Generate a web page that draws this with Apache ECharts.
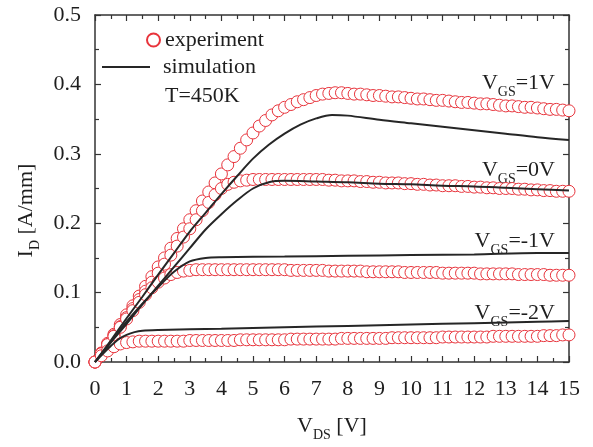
<!DOCTYPE html>
<html>
<head>
<meta charset="utf-8">
<script src="https://cdn.jsdelivr.net/npm/echarts@6/dist/echarts.min.js"></script>
<style>
html,body{margin:0;padding:0;background:#fff;}
#c{width:593px;height:447px;}
</style>
</head>
<body>
<div id="c"></div>
<script>
// ---- data ----
var vdsExp = [0,0.2,0.4,0.6,0.8,1.0,1.2,1.4,1.6,1.8,2.0,2.2,2.4,2.6,2.8,3.0,3.2,3.4,3.6,3.8,
  4.0,4.2,4.4,4.6,4.8,5.0,5.2,5.4,5.6,5.8,6.0,6.2,6.4,6.6,6.8,7.0,7.2,7.4,7.6,7.8,
  8.0,8.2,8.4,8.6,8.8,9.0,9.2,9.4,9.6,9.8,10.0,10.2,10.4,10.6,10.8,11.0,11.2,11.4,11.6,11.8,
  12.0,12.2,12.4,12.6,12.8,13.0,13.2,13.4,13.6,13.8,14.0,14.2,14.4,14.6,14.8,15.0];

var exp1V = [0,0.013,0.027,0.040,0.054,0.068,0.081,0.095,0.109,0.123,0.137,0.150,0.164,0.178,0.192,0.205,0.218,0.232,0.245,0.258,
  0.271,0.284,0.296,0.308,0.320,0.330,0.340,0.348,0.356,0.362,0.367,0.371,0.375,0.378,0.381,0.384,0.386,0.387,0.388,0.388,
  0.387,0.386,0.386,0.385,0.384,0.384,0.383,0.382,0.382,0.381,0.380,0.379,0.379,0.378,0.377,0.377,0.376,0.375,0.374,0.374,
  0.373,0.372,0.372,0.371,0.370,0.369,0.369,0.368,0.367,0.367,0.366,0.365,0.364,0.364,0.363,0.362];

var exp0V = [0,0.012,0.025,0.038,0.051,0.064,0.077,0.090,0.102,0.115,0.128,0.141,0.154,0.167,0.180,0.192,0.205,0.218,0.230,0.241,
  0.250,0.256,0.259,0.261,0.262,0.263,0.263,0.263,0.263,0.263,0.263,0.263,0.263,0.263,0.263,0.263,0.263,0.262,0.262,0.261,
  0.261,0.261,0.260,0.260,0.259,0.259,0.258,0.258,0.258,0.257,0.257,0.256,0.256,0.255,0.255,0.254,0.254,0.254,0.253,0.253,
  0.252,0.252,0.251,0.251,0.250,0.250,0.250,0.249,0.249,0.248,0.248,0.247,0.247,0.246,0.246,0.246];

var expM1V = [0,0.012,0.025,0.037,0.050,0.062,0.074,0.086,0.097,0.107,0.115,0.121,0.126,0.129,0.131,0.132,0.133,0.133,0.133,0.133,
  0.133,0.133,0.133,0.133,0.133,0.133,0.133,0.133,0.133,0.133,0.133,0.132,0.132,0.132,0.132,0.132,0.132,0.131,0.131,0.131,
  0.131,0.131,0.131,0.130,0.130,0.130,0.130,0.130,0.130,0.129,0.129,0.129,0.129,0.129,0.129,0.128,0.128,0.128,0.128,0.128,
  0.128,0.127,0.127,0.127,0.127,0.127,0.127,0.126,0.126,0.126,0.126,0.126,0.125,0.125,0.125,0.125];

var expM2V = [0,0.009,0.016,0.022,0.026,0.028,0.029,0.030,0.030,0.030,0.030,0.030,0.030,0.030,0.030,0.031,0.031,0.031,0.031,0.031,
  0.031,0.031,0.031,0.032,0.032,0.032,0.032,0.032,0.032,0.032,0.032,0.033,0.033,0.033,0.033,0.033,0.033,0.033,0.033,0.034,
  0.034,0.034,0.034,0.034,0.034,0.034,0.034,0.035,0.035,0.035,0.035,0.035,0.035,0.035,0.035,0.036,0.036,0.036,0.036,0.036,
  0.036,0.036,0.036,0.037,0.037,0.037,0.037,0.037,0.037,0.037,0.037,0.038,0.038,0.038,0.039,0.039];

var vdsSim1V = [0,0.5,1,1.5,2,2.5,3,3.5,4,4.5,5,5.5,6,6.5,7,7.5,8,9,10,11,12,13,14,15];
var sim1V = [0,0.031,0.063,0.094,0.126,0.157,0.188,0.215,0.242,0.268,0.293,0.313,0.329,0.342,0.351,0.356,0.355,0.349,0.344,0.339,0.334,0.329,0.324,0.320];

var vdsSim0V = [0,0.5,1,1.5,2,2.5,3,3.5,4,4.5,5,5.5,6,7,8,9,10,11,12,13,14,15];
var sim0V = [0,0.028,0.055,0.083,0.110,0.137,0.164,0.191,0.213,0.233,0.250,0.259,0.261,0.260,0.259,0.257,0.256,0.254,0.253,0.251,0.249,0.247];

var vdsSimM1V = [0,0.5,1,1.5,2,2.5,3,3.5,4,6,8,10,12,14,15];
var simM1V = [0,0.029,0.058,0.084,0.108,0.130,0.145,0.150,0.151,0.152,0.153,0.154,0.155,0.157,0.157];

var vdsSimM2V = [0,0.25,0.5,0.75,1,1.25,1.5,2,4,6,8,10,12,14,15];
var simM2V = [0,0.012,0.023,0.033,0.039,0.043,0.045,0.046,0.048,0.050,0.052,0.054,0.056,0.058,0.059];

var xTickLabels = ['0','1','2','3','4','5','6','7','8','9','10','11','12','13','14','15'];
var yTickLabels = ['0.0','0.1','0.2','0.3','0.4','0.5'];

var curveLabels = [
  {gs: '=1V', y: 83},
  {gs: '=0V', y: 170},
  {gs: '=-1V', y: 241},
  {gs: '=-2V', y: 313}
];

// ---- chart ----
var FONT = 'Liberation Serif';
var TXT = '#1e1e1e';
var RED = '#e8343c';
var AX = '#333';

function pairs(xs, ys){ return xs.map(function(v,i){ return [v, ys[i]]; }); }

function expSeries(name, ys){
  return {
    name: name, type: 'scatter', data: pairs(vdsExp, ys),
    symbol: 'circle', symbolSize: 12, z: 2,
    itemStyle: {color: '#fff', borderColor: RED, borderWidth: 1, opacity: 1},
    emphasis: {disabled: true}, silent: true
  };
}
function simSeries(name, xs, ys){
  return {
    name: name, type: 'line', data: pairs(xs, ys), symbol: 'none', smooth: 0.3, z: 3,
    lineStyle: {color: '#262626', width: 2}, itemStyle: {color: '#262626'},
    emphasis: {disabled: true}, silent: true
  };
}

var tickCommon = {show: true, inside: true, length: 6, lineStyle: {color: AX, width: 1.2}};
var minorCommon = {show: true, splitNumber: 2, length: 4, lineStyle: {color: AX, width: 1.2}};
var lineCommon = {show: true, onZero: false, lineStyle: {color: AX, width: 1.5}};

var chart = echarts.init(document.getElementById('c'), null, {renderer: 'canvas'});
chart.setOption({
  animation: false,
  backgroundColor: '#fff',
  grid: {left: 95, right: 24, top: 15, bottom: 76, containLabel: false},
  xAxis: [{
    type: 'value', min: 0, max: 15, interval: 1, position: 'bottom',
    axisLine: lineCommon, axisTick: tickCommon, minorTick: minorCommon,
    splitLine: {show: false}, minorSplitLine: {show: false},
    axisLabel: {margin: 16, color: TXT, fontFamily: FONT, fontSize: 22,
      formatter: function(v){ return xTickLabels[Math.round(v)]; }},
    name: '{a|V}{s|DS}{a| [V]}', nameLocation: 'middle', nameGap: 48,
    nameTextStyle: {color: TXT, fontFamily: FONT, rich: {
      a: {fontFamily: FONT, fontSize: 22, color: TXT},
      s: {fontFamily: FONT, fontSize: 14, color: TXT, padding: [18,0,0,0]}
    }}
  }, {
    type: 'value', min: 0, max: 15, interval: 1, position: 'top',
    axisLine: lineCommon, axisTick: tickCommon, minorTick: minorCommon,
    splitLine: {show: false}, axisLabel: {show: false}
  }],
  yAxis: [{
    type: 'value', min: 0, max: 0.5, interval: 0.1, position: 'left',
    axisLine: lineCommon, axisTick: tickCommon, minorTick: minorCommon,
    splitLine: {show: false}, minorSplitLine: {show: false},
    axisLabel: {margin: 14, color: TXT, fontFamily: FONT, fontSize: 22,
      formatter: function(v){ return yTickLabels[Math.round(v*10)]; }},
    name: '{a|I}{s|D}{a| [A/mm]}', nameLocation: 'middle', nameGap: 52, nameRotate: 90,
    nameTextStyle: {color: TXT, fontFamily: FONT, padding: [0, 44, 0, 0], rich: {
      a: {fontFamily: FONT, fontSize: 22, color: TXT},
      s: {fontFamily: FONT, fontSize: 14, color: TXT, padding: [18,0,0,0]}
    }}
  }, {
    type: 'value', min: 0, max: 0.5, interval: 0.1, position: 'right',
    axisLine: lineCommon, axisTick: tickCommon, minorTick: minorCommon,
    splitLine: {show: false}, axisLabel: {show: false}
  }],
  legend: [{
    data: ['experiment'], orient: 'vertical', left: 146, top: 29, padding: 0,
    itemWidth: 13, itemHeight: 13, selectedMode: false,
    textStyle: {fontFamily: FONT, fontSize: 22, color: TXT}
  }, {
    data: [{name: 'simulation', icon: 'rect'}], orient: 'vertical', left: 102, top: 56, padding: 0,
    itemWidth: 48, itemHeight: 2, selectedMode: false,
    textStyle: {fontFamily: FONT, fontSize: 22, color: TXT, padding: [0,0,0,8]}
  }],
  graphic: [{
    type: 'text', left: 165, top: 85, silent: true,
    style: {text: 'T=450K', font: '22px "Liberation Serif"', fill: TXT}
  }].concat(curveLabels.map(function(c){
    return {
      type: 'text', silent: true, x: 555, y: c.y,
      style: {
        text: '{v|V}{s|GS}{v|' + c.gs + '}', align: 'right', verticalAlign: 'middle',
        rich: {
          v: {fontFamily: FONT, fontSize: 22, fill: TXT, color: TXT},
          s: {fontFamily: FONT, fontSize: 14, fill: TXT, color: TXT, padding: [18,0,0,0]}
        }
      }
    };
  })),
  series: [
    expSeries('experiment', exp1V),
    expSeries('experiment', exp0V),
    expSeries('experiment', expM1V),
    expSeries('experiment', expM2V),
    simSeries('simulation', vdsSim1V, sim1V),
    simSeries('simulation', vdsSim0V, sim0V),
    simSeries('simulation', vdsSimM1V, simM1V),
    simSeries('simulation', vdsSimM2V, simM2V)
  ]
});
</script>
</body>
</html>
